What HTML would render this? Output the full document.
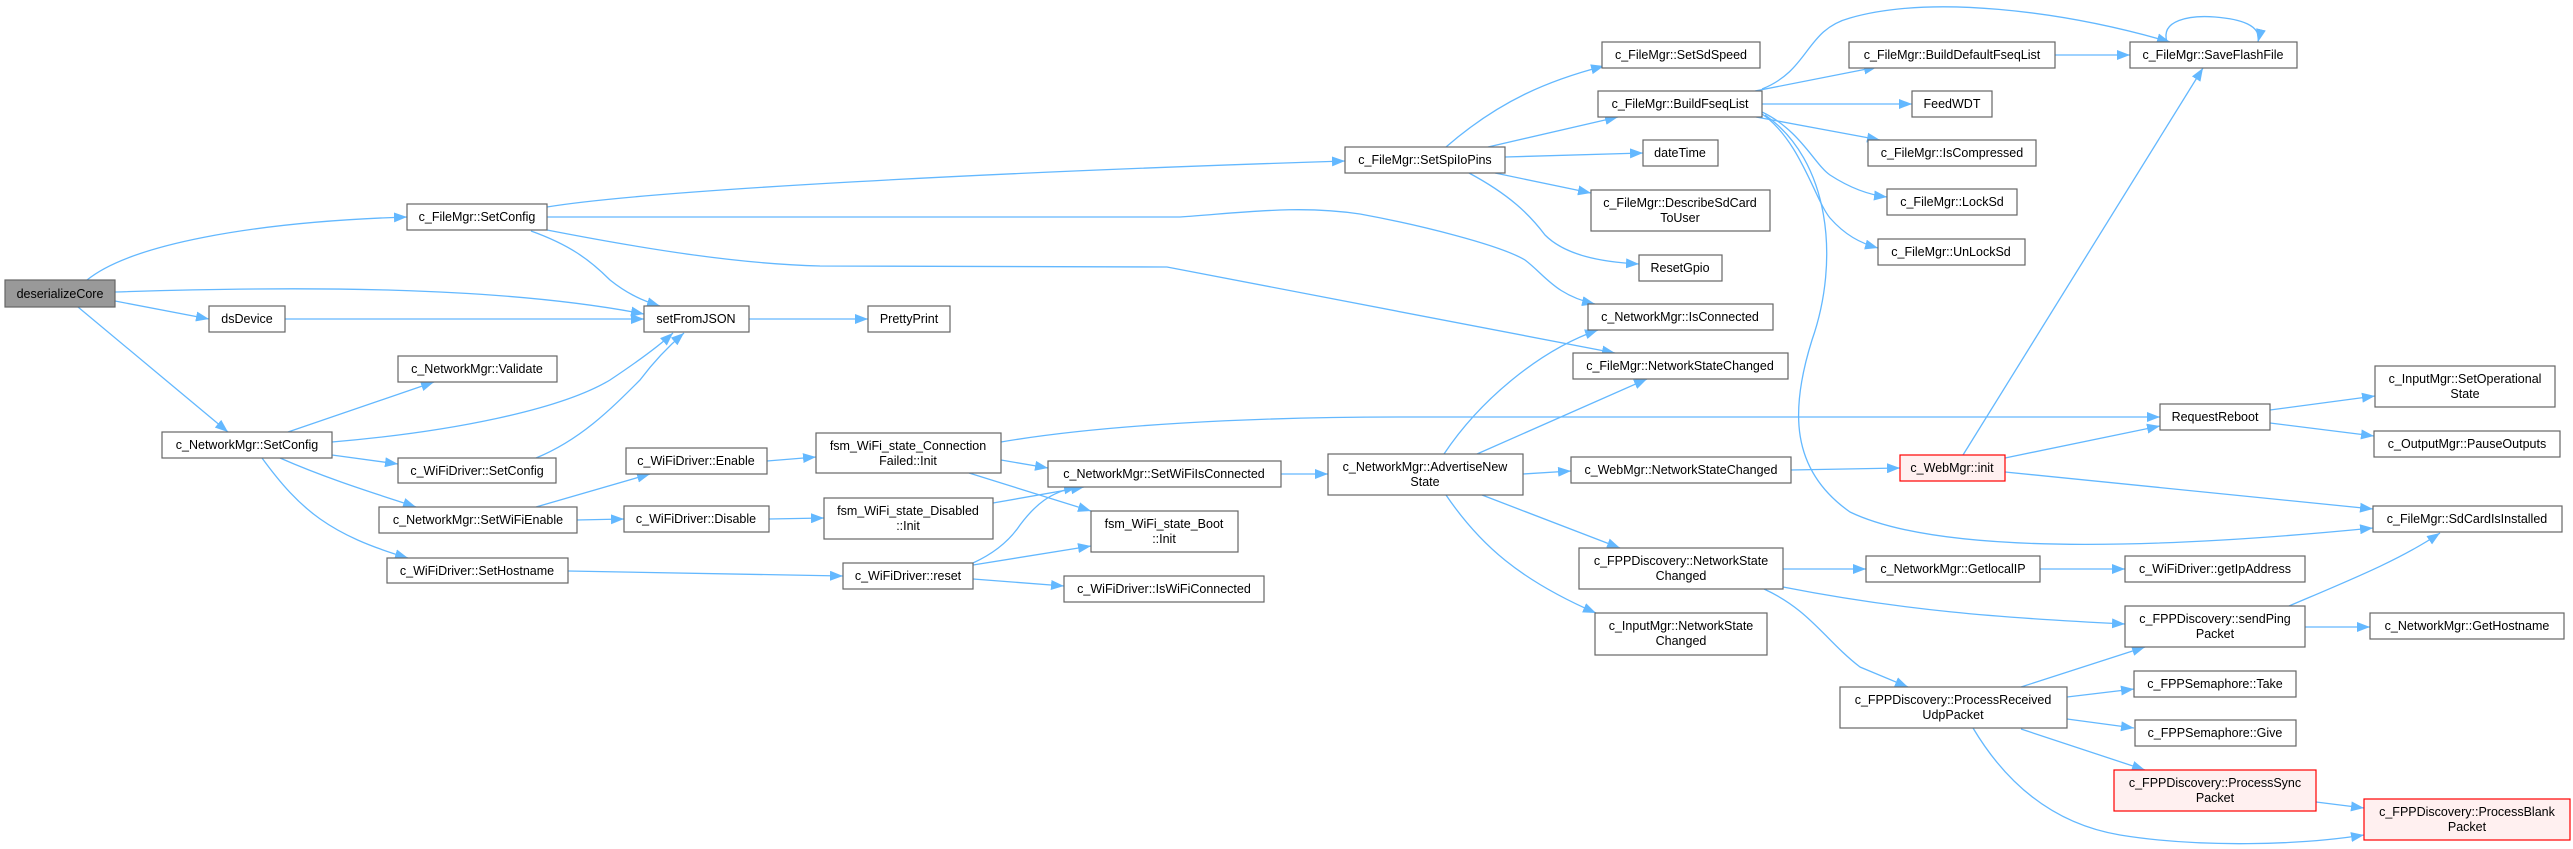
<!DOCTYPE html>
<html><head><meta charset="utf-8"><style>
html,body{margin:0;padding:0;background:#fff;}
svg{display:block;}
text{font-family:"Liberation Sans",Arial,sans-serif;font-size:12.5px;fill:#000;text-anchor:middle;}
.n{fill:#fff;stroke:#666;stroke-width:1.2;}
.r{fill:#fff0f0;stroke:#f00;stroke-width:1.2;}
.g{fill:#999;stroke:#666;stroke-width:1.2;}
path.e{fill:none;stroke:#63b8ff;stroke-width:1.3;marker-end:url(#a);}
</style></head><body>
<svg width="2573" height="849" viewBox="0 0 2573 849" xmlns="http://www.w3.org/2000/svg">
<defs><marker id="a" markerUnits="userSpaceOnUse" markerWidth="14" markerHeight="10" refX="13" refY="5" orient="auto"><path d="M0,0 L13,5 L0,10 z" fill="#63b8ff"/></marker></defs>

<!-- edges -->
<path class="e" d="M87,280 C130,245 250,222 407,217"/>
<path class="e" d="M115,292 C300,286 500,286 644,314"/>
<path class="e" d="M115,301 L209,319"/>
<path class="e" d="M78,307 L228,432"/>
<path class="e" d="M547,207 C650,190 1000,172 1345,161"/>
<path class="e" d="M547,217 L1180,217 C1250,212 1300,205 1360,214 C1420,225 1500,245 1525,260 C1545,275 1555,295 1595,304"/>
<path class="e" d="M547,230 C650,250 740,264 820,266 L1167,267 L1615,353"/>
<path class="e" d="M531,231 C570,245 590,260 610,280 C625,292 640,300 660,306"/>
<path class="e" d="M285,319 L644,319"/>
<path class="e" d="M749,319 L868,319"/>
<path class="e" d="M288,432 L434,382"/>
<path class="e" d="M332,442 C450,432 560,410 610,380 C640,360 660,345 673,333"/>
<path class="e" d="M332,455 L398,464"/>
<path class="e" d="M280,458 C330,480 380,495 416,507"/>
<path class="e" d="M262,458 C300,510 330,535 408,558"/>
<path class="e" d="M536,458 C580,440 610,410 640,380 C655,360 670,345 684,333"/>
<path class="e" d="M536,507 L650,474"/>
<path class="e" d="M577,520 L624,519"/>
<path class="e" d="M767,461 L816,457"/>
<path class="e" d="M769,519 L824,518"/>
<path class="e" d="M568,571 L843,576"/>
<path class="e" d="M1001,442 C1100,425 1250,417 1400,417 L2160,417"/>
<path class="e" d="M1001,460 L1048,468"/>
<path class="e" d="M969,473 L1091,511"/>
<path class="e" d="M993,503 L1084,487"/>
<path class="e" d="M973,563 C995,553 1010,540 1020,525 C1035,505 1050,492 1077,487"/>
<path class="e" d="M973,565 L1091,546"/>
<path class="e" d="M973,579 L1064,586"/>
<path class="e" d="M1281,474 L1328,474"/>
<path class="e" d="M1444,454 C1480,400 1540,350 1598,330"/>
<path class="e" d="M1477,454 L1647,379"/>
<path class="e" d="M1523,474 L1571,471"/>
<path class="e" d="M1482,495 L1620,548"/>
<path class="e" d="M1446,495 C1480,545 1520,580 1596,613"/>
<path class="e" d="M1446,147 C1500,100 1550,80 1604,66"/>
<path class="e" d="M1488,147 L1618,117"/>
<path class="e" d="M1505,157 L1643,153"/>
<path class="e" d="M1495,173 L1591,193"/>
<path class="e" d="M1469,173 C1510,195 1530,215 1545,235 C1565,255 1600,262 1639,264"/>
<path class="e" d="M1755,91 L1877,67"/>
<path class="e" d="M1762,89 C1810,70 1805,30 1850,18 C1930,-5 2060,10 2170,42"/>
<path class="e" d="M1762,104 L1912,104"/>
<path class="e" d="M1756,117 L1880,140"/>
<path class="e" d="M1762,112 C1800,130 1815,165 1830,175 C1850,188 1870,195 1887,197"/>
<path class="e" d="M1762,114 C1800,140 1815,200 1830,218 C1845,235 1860,243 1878,248"/>
<path class="e" d="M1765,115 C1830,160 1840,260 1812,340 C1790,410 1790,470 1850,512 C1950,560 2200,545 2373,528"/>
<path class="e" d="M2055,55 L2130,55"/>
<path class="e" d="M2167,42 C2160,20 2190,15 2215,17 C2240,19 2262,25 2258,42"/>
<path class="e" d="M1791,470 L1900,468"/>
<path class="e" d="M1963,455 L2203,68"/>
<path class="e" d="M2005,458 L2160,426"/>
<path class="e" d="M2005,472 L2373,509"/>
<path class="e" d="M2270,410 L2375,396"/>
<path class="e" d="M2270,423 L2374,436"/>
<path class="e" d="M1783,569 L1866,569"/>
<path class="e" d="M1783,587 C1900,610 2000,618 2125,624"/>
<path class="e" d="M1764,589 C1810,610 1825,640 1860,667 L1908,687"/>
<path class="e" d="M2040,569 L2125,569"/>
<path class="e" d="M2289,606 C2350,580 2400,560 2440,533"/>
<path class="e" d="M2305,627 L2370,627"/>
<path class="e" d="M2021,687 L2145,647"/>
<path class="e" d="M2067,697 L2134,689"/>
<path class="e" d="M2067,719 L2134,728"/>
<path class="e" d="M2021,729 L2145,770"/>
<path class="e" d="M1973,728 C2010,790 2060,825 2120,835 C2200,848 2300,845 2364,835"/>
<path class="e" d="M2316,802 L2364,808"/>

<!-- nodes -->
<rect class="g" x="5" y="280" width="110" height="27"/><text x="60" y="298">deserializeCore</text>
<rect class="n" x="407" y="204" width="140" height="26"/><text x="477" y="221">c_FileMgr::SetConfig</text>
<rect class="n" x="209" y="306" width="76" height="26"/><text x="247" y="323">dsDevice</text>
<rect class="n" x="644" y="306" width="105" height="26"/><text x="696" y="323">setFromJSON</text>
<rect class="n" x="868" y="306" width="82" height="26"/><text x="909" y="323">PrettyPrint</text>
<rect class="n" x="398" y="356" width="159" height="26"/><text x="477" y="373">c_NetworkMgr::Validate</text>
<rect class="n" x="162" y="432" width="170" height="26"/><text x="247" y="449">c_NetworkMgr::SetConfig</text>
<rect class="n" x="398" y="458" width="158" height="25"/><text x="477" y="475">c_WiFiDriver::SetConfig</text>
<rect class="n" x="626" y="448" width="141" height="26"/><text x="696" y="465">c_WiFiDriver::Enable</text>
<rect class="n" x="379" y="507" width="198" height="26"/><text x="478" y="524">c_NetworkMgr::SetWiFiEnable</text>
<rect class="n" x="624" y="506" width="145" height="26"/><text x="696" y="523">c_WiFiDriver::Disable</text>
<rect class="n" x="387" y="558" width="181" height="25"/><text x="477" y="575">c_WiFiDriver::SetHostname</text>
<rect class="n" x="816" y="433" width="185" height="40"/><text x="908" y="450">fsm_WiFi_state_Connection</text><text x="908" y="465">Failed::Init</text>
<rect class="n" x="1048" y="461" width="233" height="26"/><text x="1164" y="478">c_NetworkMgr::SetWiFiIsConnected</text>
<rect class="n" x="1328" y="454" width="195" height="41"/><text x="1425" y="471">c_NetworkMgr::AdvertiseNew</text><text x="1425" y="486">State</text>
<rect class="n" x="824" y="498" width="169" height="41"/><text x="908" y="515">fsm_WiFi_state_Disabled</text><text x="908" y="530">::Init</text>
<rect class="n" x="1091" y="511" width="147" height="41"/><text x="1164" y="528">fsm_WiFi_state_Boot</text><text x="1164" y="543">::Init</text>
<rect class="n" x="843" y="563" width="130" height="26"/><text x="908" y="580">c_WiFiDriver::reset</text>
<rect class="n" x="1064" y="576" width="200" height="26"/><text x="1164" y="593">c_WiFiDriver::IsWiFiConnected</text>
<rect class="n" x="1345" y="147" width="160" height="26"/><text x="1425" y="164">c_FileMgr::SetSpiIoPins</text>
<rect class="n" x="1602" y="42" width="158" height="26"/><text x="1681" y="59">c_FileMgr::SetSdSpeed</text>
<rect class="n" x="1598" y="91" width="164" height="26"/><text x="1680" y="108">c_FileMgr::BuildFseqList</text>
<rect class="n" x="1643" y="140" width="75" height="26"/><text x="1680" y="157">dateTime</text>
<rect class="n" x="1591" y="190" width="179" height="41"/><text x="1680" y="207">c_FileMgr::DescribeSdCard</text><text x="1680" y="222">ToUser</text>
<rect class="n" x="1639" y="255" width="83" height="26"/><text x="1680" y="272">ResetGpio</text>
<rect class="n" x="1588" y="304" width="185" height="26"/><text x="1680" y="321">c_NetworkMgr::IsConnected</text>
<rect class="n" x="1573" y="353" width="215" height="26"/><text x="1680" y="370">c_FileMgr::NetworkStateChanged</text>
<rect class="n" x="1849" y="42" width="206" height="26"/><text x="1952" y="59">c_FileMgr::BuildDefaultFseqList</text>
<rect class="n" x="2130" y="42" width="167" height="26"/><text x="2213" y="59">c_FileMgr::SaveFlashFile</text>
<rect class="n" x="1912" y="91" width="80" height="26"/><text x="1952" y="108">FeedWDT</text>
<rect class="n" x="1868" y="140" width="168" height="26"/><text x="1952" y="157">c_FileMgr::IsCompressed</text>
<rect class="n" x="1887" y="189" width="130" height="26"/><text x="1952" y="206">c_FileMgr::LockSd</text>
<rect class="n" x="1878" y="239" width="147" height="26"/><text x="1951" y="256">c_FileMgr::UnLockSd</text>
<rect class="n" x="2375" y="366" width="180" height="41"/><text x="2465" y="383">c_InputMgr::SetOperational</text><text x="2465" y="398">State</text>
<rect class="n" x="2160" y="404" width="110" height="26"/><text x="2215" y="421">RequestReboot</text>
<rect class="n" x="2374" y="431" width="186" height="26"/><text x="2467" y="448">c_OutputMgr::PauseOutputs</text>
<rect class="n" x="1571" y="457" width="220" height="26"/><text x="1681" y="474">c_WebMgr::NetworkStateChanged</text>
<rect class="r" x="1900" y="455" width="105" height="26"/><text x="1952" y="472">c_WebMgr::init</text>
<rect class="n" x="2373" y="506" width="189" height="26"/><text x="2467" y="523">c_FileMgr::SdCardIsInstalled</text>
<rect class="n" x="1579" y="548" width="204" height="41"/><text x="1681" y="565">c_FPPDiscovery::NetworkState</text><text x="1681" y="580">Changed</text>
<rect class="n" x="1866" y="556" width="174" height="26"/><text x="1953" y="573">c_NetworkMgr::GetlocalIP</text>
<rect class="n" x="2125" y="556" width="180" height="26"/><text x="2215" y="573">c_WiFiDriver::getIpAddress</text>
<rect class="n" x="1595" y="613" width="172" height="42"/><text x="1681" y="630">c_InputMgr::NetworkState</text><text x="1681" y="645">Changed</text>
<rect class="n" x="2125" y="606" width="180" height="41"/><text x="2215" y="623">c_FPPDiscovery::sendPing</text><text x="2215" y="638">Packet</text>
<rect class="n" x="2370" y="613" width="194" height="26"/><text x="2467" y="630">c_NetworkMgr::GetHostname</text>
<rect class="n" x="1840" y="687" width="227" height="41"/><text x="1953" y="704">c_FPPDiscovery::ProcessReceived</text><text x="1953" y="719">UdpPacket</text>
<rect class="n" x="2134" y="671" width="162" height="26"/><text x="2215" y="688">c_FPPSemaphore::Take</text>
<rect class="n" x="2135" y="720" width="161" height="26"/><text x="2215" y="737">c_FPPSemaphore::Give</text>
<rect class="r" x="2114" y="770" width="202" height="41"/><text x="2215" y="787">c_FPPDiscovery::ProcessSync</text><text x="2215" y="802">Packet</text>
<rect class="r" x="2364" y="799" width="206" height="41"/><text x="2467" y="816">c_FPPDiscovery::ProcessBlank</text><text x="2467" y="831">Packet</text>
</svg>
</body></html>
